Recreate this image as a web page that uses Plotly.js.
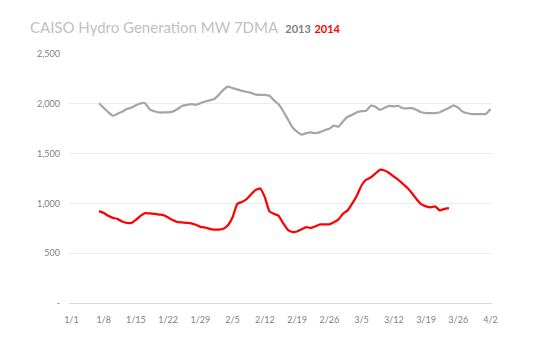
<!DOCTYPE html>
<html>
<head>
<meta charset="utf-8">
<script src="https://cdn.plot.ly/plotly-3.0.1.min.js"></script>
<style>html,body{margin:0;padding:0;background:#fff;}#chart{width:537px;height:356px;}</style>
</head>
<body>
<div id="chart"></div>
<script>
// First plotted day (both series start 1/7)
const startDate = '2014-01-07';

// 2013 series (gray), daily 1/7 .. 4/2, MW 7-day moving average
const hydro2013 = [
  2005, 1960, 1915, 1880, 1900, 1920, 1947, 1960, 1985, 2005,
  2005, 1945, 1925, 1913, 1913, 1913, 1922, 1945, 1978, 1988,
  1997, 1990, 2005, 2023, 2035, 2047, 2090, 2140, 2172, 2158,
  2145, 2130, 2120, 2110, 2092, 2090, 2090, 2080, 2035, 1995,
  1925, 1845, 1765, 1720, 1690, 1705, 1713, 1705, 1715, 1735,
  1750, 1780, 1770, 1825, 1870, 1890, 1915, 1927, 1930, 1980,
  1970, 1940, 1960, 1980, 1975, 1978, 1955, 1955, 1957, 1937,
  1915, 1907, 1907, 1907, 1915, 1937, 1960, 1985, 1960, 1920,
  1905, 1897, 1897, 1897, 1897, 1947
];

// 2014 series (red), daily 1/7 .. 3/24
const hydro2014 = [
  923, 905, 875, 855, 845, 818, 805, 803, 835, 875,
  903, 900, 895, 888, 883, 858, 833, 813, 810, 805,
  800, 785, 765, 758, 745, 737, 737, 745, 780, 860,
  995, 1015, 1040, 1090, 1135, 1150, 1063, 920, 895, 875,
  800, 735, 713, 718, 740, 763, 753, 770, 790, 790,
  790, 810, 840, 897, 930, 1000, 1080, 1180, 1238, 1260,
  1300, 1337, 1330, 1305, 1270, 1237, 1195, 1155, 1100, 1040,
  990, 970, 960, 970, 930, 945, 953
];

// Axis tick labels
const xTickLabels = ['1/1','1/8','1/15','1/22','1/29','2/5','2/12','2/19','2/26','3/5','3/12','3/19','3/26','4/2'];
const xTickDates = ['2014-01-01','2014-01-08','2014-01-15','2014-01-22','2014-01-29','2014-02-05','2014-02-12','2014-02-19','2014-02-26','2014-03-05','2014-03-12','2014-03-19','2014-03-26','2014-04-02'];
const yTickVals = [0, 500, 1000, 1500, 2000, 2500];
const yTickLabels = ['-', '500', '1,000', '1,500', '2,000', '2,500'];

function dates(n) {
  const out = [];
  const d0 = new Date(startDate + 'T00:00:00Z');
  for (let i = 0; i < n; i++) {
    const d = new Date(d0.getTime() + i * 86400000);
    out.push(d.toISOString().slice(0, 10));
  }
  return out;
}

const traces = [
  {x: dates(hydro2013.length), y: hydro2013, type: 'scatter', mode: 'lines', name: '2013',
   line: {color: '#a6a6a6', width: 2.25, shape: 'spline', smoothing: 0.4}},
  {x: dates(hydro2014.length), y: hydro2014, type: 'scatter', mode: 'lines', name: '2014',
   line: {color: '#ff0000', width: 2.25, shape: 'spline', smoothing: 0.4}}
];

const tickFont = {family: 'Lato, "Open Sans", sans-serif', size: 9, color: '#7f7f7f'};

const layout = {
  width: 537, height: 356,
  margin: {l: 69, r: 45, t: 54, b: 53},
  paper_bgcolor: '#fff', plot_bgcolor: '#fff',
  showlegend: false,
  title: {
    text: 'CAISO Hydro Generation MW 7DMA  <b><span style="color:#7f7f7f;font-size:11px">2013</span> <span style="color:#ff0000;font-size:11px">2014</span></b>',
    font: {family: 'Lato, "Open Sans", sans-serif', size: 15, color: '#bfbfbf'},
    xref: 'container', x: 30/537, xanchor: 'left',
    yref: 'container', y: 1 - 28/356, yanchor: 'middle'
  },
  xaxis: {
    type: 'date',
    range: ['2013-12-31 11:30', '2014-04-02 08:00'],
    tickvals: xTickDates, ticktext: xTickLabels,
    tickfont: tickFont,
    showgrid: false, zeroline: false,
    showline: true, linecolor: '#d9d9d9', linewidth: 1,
    ticks: '', ticklabelstandoff: 8
  },
  yaxis: {
    range: [0, 2500],
    tickvals: yTickVals, ticktext: yTickLabels,
    tickfont: tickFont,
    showgrid: true, gridcolor: '#ececec', gridwidth: 1,
    zeroline: false, showline: false,
    ticks: '', ticklabelstandoff: 8
  }
};

Plotly.newPlot('chart', traces, layout, {displayModeBar: false, staticPlot: true});
</script>
</body>
</html>
